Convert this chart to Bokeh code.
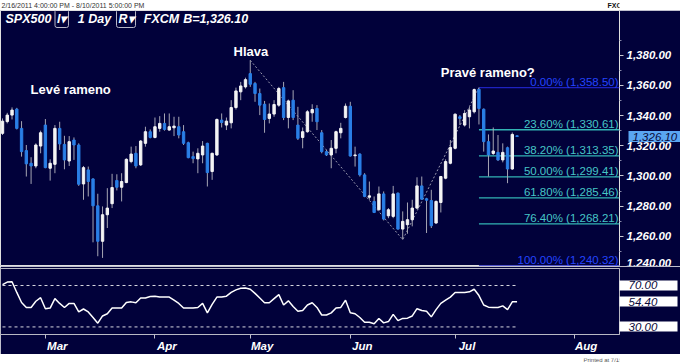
from bokeh.plotting import figure
from bokeh.models import Range1d, FixedTicker, NumeralTickFormatter, Label, LinearAxis, ColumnDataSource
from bokeh.layouts import column
from bokeh.core.properties import value
from bokeh.embed import file_html
from bokeh.resources import INLINE

# ---------------- data ----------------
symbol_title = "SPX500"
timeframe = "1 Day"
broker = "FXCM"
bid = 1326.10
date_range_text = "2/16/2011 4:00:00 PM - 8/10/2011 5:00:00 PM"
printed_text = "Printed at 7/19/2011 4:21:13 PM"
app_name = "FXCM Strategy Trader"

opens = [1328.2, 1336.0, 1340.3, 1344.3, 1331.5, 1316.8, 1308.4, 1306.6, 1319.8, 1333.7,
         1305.1, 1307.7, 1331.5, 1320.9, 1309.9, 1323.8, 1320.5, 1294.7, 1304.0, 1298.0,
         1280.2, 1256.7, 1274.3, 1281.6, 1297.0, 1292.5, 1295.6, 1309.5, 1315.0, 1307.3,
         1321.6, 1329.3, 1325.5, 1331.5, 1334.8, 1330.4, 1331.9, 1332.6, 1329.3, 1322.0,
         1312.8, 1311.3, 1313.9, 1321.6, 1302.9, 1313.9, 1337.0, 1333.7, 1335.2, 1345.3,
         1355.7, 1359.0, 1367.8, 1361.2, 1354.6, 1347.5, 1338.1, 1341.0, 1346.9, 1358.5,
         1338.7, 1350.2, 1333.7, 1325.5, 1329.3, 1341.8, 1344.7, 1328.6, 1316.1, 1313.9,
         1318.3, 1328.6, 1338.7, 1346.2, 1313.4, 1314.5, 1300.7, 1285.9, 1283.1, 1277.6,
         1288.1, 1273.6, 1273.2, 1288.6, 1264.8, 1267.7, 1271.0, 1278.7, 1293.4, 1284.9,
         1283.7, 1268.8, 1282.4, 1298.5, 1308.4, 1318.3, 1339.2, 1333.7, 1339.2, 1342.5,
         1357.4, 1344.2, 1322.7, 1314.9, 1315.6, 1310.6, 1318.7, 1304.6, 1326.6]
highs = [1338.1, 1341.8, 1345.4, 1345.1, 1336.3, 1320.5, 1312.4, 1321.6, 1330.0, 1337.7,
         1311.0, 1333.7, 1335.9, 1326.6, 1326.4, 1325.5, 1321.6, 1306.6, 1306.2, 1298.5,
         1288.2, 1279.8, 1291.9, 1301.4, 1301.1, 1301.8, 1311.7, 1319.4, 1319.8, 1323.8,
         1332.6, 1330.8, 1338.7, 1339.6, 1341.4, 1341.4, 1339.2, 1339.2, 1333.7, 1322.7,
         1316.1, 1318.3, 1323.1, 1322.0, 1315.4, 1338.1, 1341.4, 1338.7, 1350.2, 1358.5,
         1362.3, 1365.1, 1376.6, 1362.3, 1357.9, 1349.7, 1348.0, 1350.2, 1359.0, 1362.3,
         1350.6, 1356.8, 1345.8, 1332.1, 1343.6, 1347.5, 1346.9, 1330.4, 1317.2, 1323.8,
         1330.0, 1335.2, 1348.0, 1349.1, 1319.4, 1315.0, 1301.8, 1296.3, 1286.4, 1293.0,
         1289.7, 1278.7, 1293.4, 1289.0, 1276.5, 1282.4, 1284.2, 1299.1, 1299.6, 1285.5,
         1290.8, 1283.8, 1300.0, 1311.0, 1323.8, 1341.4, 1340.3, 1343.6, 1345.8, 1357.9,
         1358.5, 1344.7, 1327.5, 1332.1, 1327.1, 1321.6, 1319.4, 1328.8, 1326.9]
lows = [1327.1, 1334.8, 1337.4, 1330.8, 1312.8, 1299.6, 1294.7, 1305.1, 1315.0, 1305.1,
        1296.9, 1301.8, 1317.2, 1304.4, 1306.6, 1310.6, 1293.4, 1284.2, 1286.4, 1256.0,
        1246.8, 1245.7, 1265.5, 1278.7, 1290.4, 1283.1, 1295.2, 1308.4, 1305.1, 1306.6,
        1319.4, 1324.9, 1324.9, 1329.3, 1330.0, 1330.0, 1326.4, 1324.9, 1320.5, 1311.7,
        1308.4, 1301.8, 1308.4, 1293.0, 1297.4, 1313.2, 1332.1, 1330.4, 1331.5, 1344.0,
        1350.2, 1357.9, 1359.0, 1349.1, 1340.3, 1328.6, 1334.8, 1339.2, 1345.8, 1337.0,
        1331.5, 1337.0, 1323.8, 1318.3, 1328.6, 1335.9, 1330.4, 1315.0, 1313.2, 1305.1,
        1315.0, 1324.9, 1338.1, 1312.8, 1306.2, 1299.6, 1285.9, 1284.2, 1275.4, 1277.1,
        1270.5, 1272.0, 1272.0, 1264.4, 1257.8, 1261.7, 1266.6, 1278.0, 1284.2, 1262.2,
        1265.5, 1268.3, 1275.8, 1297.8, 1307.7, 1317.6, 1333.7, 1332.7, 1331.5, 1341.4,
        1334.1, 1316.1, 1299.6, 1313.9, 1309.9, 1309.0, 1295.2, 1304.0, 1325.9]
closes = [1336.3, 1340.3, 1343.6, 1331.5, 1316.1, 1308.0, 1306.6, 1320.5, 1328.6, 1305.5,
          1308.4, 1331.5, 1321.2, 1310.6, 1322.7, 1320.5, 1294.5, 1305.5, 1296.3, 1280.2,
          1256.7, 1274.3, 1278.7, 1292.3, 1292.5, 1296.3, 1311.0, 1314.5, 1306.6, 1323.1,
          1329.3, 1325.5, 1332.6, 1334.8, 1330.8, 1332.6, 1333.0, 1327.1, 1321.6, 1312.1,
          1311.5, 1315.0, 1319.8, 1302.2, 1315.0, 1337.4, 1335.4, 1336.3, 1345.3, 1356.3,
          1359.6, 1363.8, 1360.7, 1354.6, 1346.9, 1337.4, 1341.0, 1347.3, 1357.9, 1338.7,
          1349.7, 1338.7, 1324.9, 1329.3, 1342.5, 1344.0, 1335.9, 1316.1, 1313.9, 1318.3,
          1329.3, 1331.5, 1346.2, 1313.2, 1313.9, 1300.7, 1286.4, 1286.8, 1275.8, 1288.1,
          1271.4, 1277.6, 1288.1, 1264.8, 1269.9, 1271.0, 1278.7, 1293.4, 1284.6, 1283.9,
          1267.0, 1283.1, 1299.6, 1309.5, 1318.9, 1340.9, 1338.1, 1341.4, 1343.6, 1357.2,
          1344.7, 1322.7, 1313.9, 1316.5, 1310.6, 1315.6, 1304.6, 1327.5, 1326.1]

rsi = [70.9, 73.3, 73.6, 63.3, 53.6, 48.8, 48.8, 54.8, 58.2, 47.6,
       48.2, 57.3, 52.7, 48.8, 52.7, 52.7, 44.5, 47.3, 44.5, 39.1,
       33.6, 40.6, 42.7, 48.2, 48.2, 48.2, 53.6, 54.2, 53.3, 57.9,
       57.9, 59.4, 59.7, 58.8, 58.8, 58.8, 55.8, 52.7, 48.2, 48.2,
       48.2, 48.8, 52.7, 43.6, 51.8, 58.8, 58.8, 59.7, 63.3, 65.8,
       67.3, 67.6, 66.4, 62.4, 57.9, 53.3, 53.3, 57.3, 61.2, 51.2,
       55.2, 49.7, 45.2, 45.8, 51.2, 53.3, 48.8, 41.5, 41.5, 43.6,
       48.2, 48.8, 55.8, 43.6, 42.7, 39.1, 34.5, 34.5, 33.0, 38.2,
       33.9, 35.2, 42.1, 36.1, 38.2, 38.5, 40.6, 47.6, 45.8, 45.2,
       39.7, 46.7, 52.7, 55.8, 58.8, 63.3, 63.3, 63.3, 63.9, 66.4,
       60.3, 51.2, 49.1, 48.8, 48.8, 50.3, 46.7, 54.2, 54.4]
rsi_levels = [70, 30]

month_labels = ["Mar", "Apr", "May", "Jun", "Jul", "Aug"]
month_bars = [9, 32, 52, 73, 95, 120]

price_ticks = [1240, 1260, 1280, 1300, 1320, 1340, 1360, 1380]
price_minor = [1250, 1270, 1290, 1310, 1330, 1350, 1370, 1390]

fib_pcts = [0.0, 23.6, 38.2, 50.0, 61.8, 76.4, 100.0]
fib_prices = [1358.50, 1330.61, 1313.35, 1299.41, 1285.46, 1268.21, 1240.32]

pattern_names = ["Levé rameno", "Hlava", "Pravé rameno?"]
pattern_x = [5.9, 48.5, 92.0]
pattern_y = [1357.4, 1382.6, 1368.6]

swing_bars = [52, 84, 100]  # head top, June low, right shoulder top

# ---------------- style / layout ----------------
NAVY = "#01013a"
MARK = "#5aa6f2"
W = 680
FW = 619
H_HEAD, H_MAIN, H_RSI, H_FOOT = 10, 256, 88, 8
FONT = "Liberation Sans"
X0, X1 = -0.42, 129.5
P0, P1 = 1240.0, 1409.6
R0, R1 = 22.7, 86.4

xr = Range1d(X0, X1)
idx = list(range(len(opens)))
up = [c >= o for o, c in zip(opens, closes)]
src = ColumnDataSource(dict(
    x=idx, o=opens, h=highs, l=lows, c=closes,
    top=[max(o, c) for o, c in zip(opens, closes)],
    bot=[min(o, c) for o, c in zip(opens, closes)],
    col=["#f4f4f4" if u else "#2a7fe6" for u in up],
))


def strip(h):
    s = figure(width=W, height=h, x_range=Range1d(0, 1), y_range=Range1d(0, 1),
               output_backend="svg", toolbar_location=None, title=None,
               x_axis_location=None, y_axis_location=None, min_border=0,
               background_fill_color="white", border_fill_color="white", outline_line_color=None)
    s.grid.visible = False
    return s


# ---------------- header strip ----------------
head = strip(H_HEAD)
head.add_layout(Label(x=1, y=7, x_units="screen", y_units="screen", text=date_range_text,
                      text_color="#333333", text_font=FONT, text_font_size="7px",
                      text_baseline="middle", text_align="left"))
head.add_layout(Label(x=607, y=7, x_units="screen", y_units="screen", text=app_name,
                      text_color="#111111", text_font=FONT, text_font_style="bold",
                      text_font_size="7px", text_baseline="middle", text_align="left"))

# ---------------- main price panel ----------------
p = figure(width=W, height=H_MAIN, x_range=xr, y_range=Range1d(P0, P1),
           output_backend="svg", toolbar_location=None, title=None,
           x_axis_location=None, y_axis_location="right",
           min_border_left=0, min_border_top=0, min_border_bottom=0, min_border_right=W - FW,
           background_fill_color=NAVY, border_fill_color=NAVY,
           outline_line_color="#e0e0e0", outline_line_width=1)
p.grid.visible = False

ay = p.yaxis[0]
ay.ticker = FixedTicker(ticks=price_ticks, minor_ticks=price_minor)
ay.formatter = NumeralTickFormatter(format="0,0.00")
ay.axis_line_color = None
ay.major_tick_line_color = "#c8c8d0"
ay.major_tick_out = 4
ay.major_tick_in = 0
ay.minor_tick_line_color = "#8888a8"
ay.minor_tick_out = 2
ay.minor_tick_in = 0
ay.major_label_standoff = 3
ay.major_label_text_color = "white"
ay.major_label_text_font = FONT
ay.major_label_text_font_style = "bold italic"
ay.major_label_text_font_size = "11.5px"

# current-price marker: a second right axis whose single tick is drawn as a filled tag
mk = LinearAxis(ticker=FixedTicker(ticks=[bid]), formatter=NumeralTickFormatter(format="0,0.00"))
mk.axis_line_color = None
mk.major_tick_in = 46
mk.major_tick_out = 8
mk.major_tick_line_width = 11
mk.major_tick_line_color = MARK
mk.minor_tick_in = 0
mk.minor_tick_out = 0
mk.major_label_standoff = -50
mk.major_label_text_color = "#0a0a3a"
mk.major_label_text_font = FONT
mk.major_label_text_font_style = "italic"
mk.major_label_text_font_size = "11.5px"
p.add_layout(mk, "right")

# pattern dashed line (head top -> low -> right shoulder top)
swing_prices = [highs[swing_bars[0]], lows[swing_bars[1]], highs[swing_bars[2]]]
p.line(swing_bars, swing_prices, line_color="#9a9aae", line_width=1, line_dash="2 2")

# fibonacci retracement
fib_line_cols = ["#1e22c0", "#32b4b4", "#32b4b4", "#32b4b4", "#32b4b4", "#32b4b4", "#1e22c0"]
fib_text_cols = ["#2444ff", "#46c6c6", "#46c6c6", "#46c6c6", "#46c6c6", "#46c6c6", "#2444ff"]
n = len(fib_prices)
p.segment(x0=[swing_bars[-1]] * n, x1=[X1] * n, y0=fib_prices, y1=fib_prices,
          line_color=fib_line_cols, line_width=1.3)
p.text(x=[X1] * n, y=fib_prices,
       text=[f"{a:.2f}% ({b:,.2f})" for a, b in zip(fib_pcts, fib_prices)],
       text_color=fib_text_cols, text_align="right", text_baseline="bottom",
       text_font=value(FONT), text_font_size="11.5px", x_offset=-1)

# candles
p.segment(x0="x", x1="x", y0="h", y1="l", source=src, line_color="#a6a6b4", line_width=1)
p.vbar(x="x", width=0.5, top="top", bottom="bot", source=src,
       fill_color="col", line_color="col", line_width=1)

# pattern labels
p.text(x=pattern_x, y=pattern_y, text=pattern_names, text_color="white",
       text_font=value(FONT), text_font_style="bold", text_font_size="13px",
       text_align="left", text_baseline="middle")

# title row
ty = H_MAIN - 8
title_parts = [(5, symbol_title, False), (54.5, "I▾", True), (77.3, timeframe, False),
               (116, "R▾", True), (143.3, broker, False), (182.7, f"B={bid:,.2f}", False)]
for tx, tt, boxed in title_parts:
    kw = dict(border_line_color="#b8b8c8", border_line_width=1, padding=2, border_radius=2) if boxed else {}
    p.add_layout(Label(x=tx, y=ty, x_units="screen", y_units="screen", text=tt,
                       text_color="white", text_font=FONT, text_font_style="bold italic",
                       text_font_size="12.5px", text_baseline="middle", text_align="left", **kw))

# ---------------- RSI panel ----------------
r = figure(width=W, height=H_RSI, x_range=xr, y_range=Range1d(R0, R1),
           output_backend="svg", toolbar_location=None, title=None,
           x_axis_location="below", y_axis_location="right",
           min_border_left=0, min_border_top=2, min_border_bottom=16, min_border_right=W - FW,
           background_fill_color=NAVY, border_fill_color=NAVY,
           outline_line_color="#b8b8c4", outline_line_width=1)
r.grid.visible = False

label_pos = [m + 2.5 for m in month_bars]
ax = r.xaxis[0]
ax.ticker = FixedTicker(ticks=label_pos, minor_ticks=month_bars)
ax.major_label_overrides = {k: v for k, v in zip(label_pos, month_labels)}
ax.axis_line_color = "#b8b8c4"
ax.major_tick_out = 0
ax.major_tick_in = 0
ax.minor_tick_out = 4
ax.minor_tick_in = 0
ax.minor_tick_line_color = "#c0c0cc"
ax.major_label_standoff = 1
ax.major_label_text_color = "white"
ax.major_label_text_font = FONT
ax.major_label_text_font_style = "bold italic"
ax.major_label_text_font_size = "11.5px"

# RSI value tags drawn as the right axis's ticks
ry = r.yaxis[0]
ry.ticker = FixedTicker(ticks=[rsi_levels[0], rsi[-1], rsi_levels[1]], minor_ticks=[])
ry.formatter = NumeralTickFormatter(format="0.00")
ry.axis_line_color = None
ry.major_tick_in = 0
ry.major_tick_out = 58
ry.major_tick_line_width = 10
ry.major_tick_line_color = "white"
ry.minor_tick_out = 0
ry.minor_tick_in = 0
ry.major_label_standoff = -49
ry.major_label_text_color = "#0a0a3a"
ry.major_label_text_font = FONT
ry.major_label_text_font_style = "italic"
ry.major_label_text_font_size = "11.5px"

m = len(rsi_levels)
r.segment(x0=[idx[0]] * m, x1=[idx[-1]] * m, y0=rsi_levels, y1=rsi_levels,
          line_color="#d8d8e0", line_width=1, line_dash="3 3")
r.line(idx, rsi, line_color="white", line_width=1.5)

# ---------------- footer strip ----------------
foot = strip(H_FOOT)
foot.add_layout(Label(x=583, y=6.5, x_units="screen", y_units="screen", text=printed_text,
                      text_color="#555555", text_font=FONT, text_font_size="6px",
                      text_baseline="middle", text_align="left"))

layout = column(head, p, r, foot, spacing=0)
open("out.html", "w").write(file_html(layout, INLINE))
